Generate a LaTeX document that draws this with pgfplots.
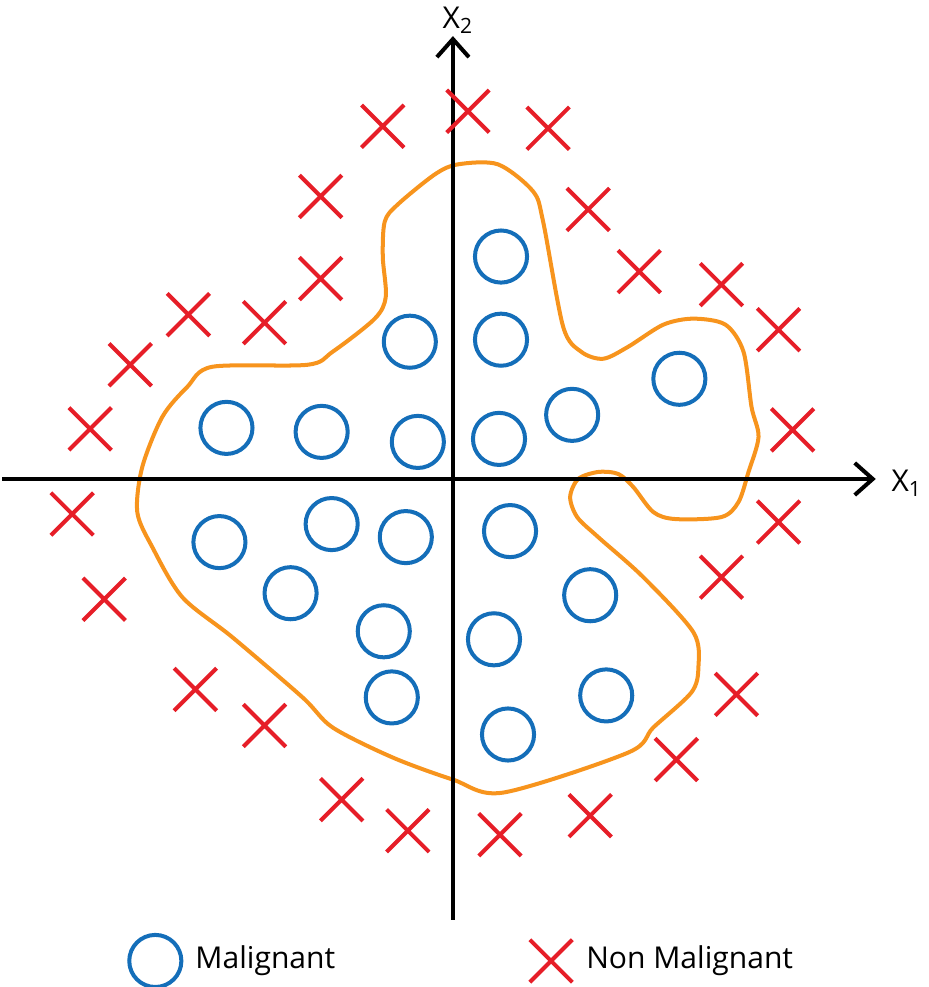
\documentclass[border=0pt]{standalone}
\usepackage{pgfplots}
\pgfplotsset{compat=1.18}
\usepackage{fontspec}
\setmainfont{Open Sans}
\usetikzlibrary{arrows.meta}
\definecolor{cblue}{RGB}{20,110,185}
\definecolor{cred}{RGB}{230,30,40}
\definecolor{corange}{RGB}{247,148,29}
\begin{document}
\begin{tikzpicture}
\begin{axis}[hide axis, scale only axis, width=461pt, height=493.5pt,
  xmin=0,xmax=922,ymin=0,ymax=987, y dir=reverse, clip=false]
\addplot[corange, line width=2pt, smooth cycle, tension=0.5] coordinates {
(455,158)(495,158)(530,185)(540,215)(560,320)(578,345)(600,352)(625,340)(660,318)(690,312)(722,318)(740,345)(748,400)(755,430)(745,465)(735,495)(718,510)(672,512)(650,505)(630,480)(615,467)(595,465)(575,472)(567,490)(574,510)(595,530)(640,570)(690,625)(695,660)(688,685)(650,720)(625,745)(500,785)(450,772)(390,750)(330,720)(300,690)(230,630)(180,590)(150,540)(135,505)(140,460)(160,410)(185,380)(210,360)(305,358)(330,345)(372,312)(383,290)(380,250)(382,215)(395,198)(432,168)};
\addplot[black, line width=2pt, -{Straight Barb[length=9pt,width=16pt,line width=2pt]}] coordinates {(0,472)(872,472)};
\addplot[black, line width=2pt, -{Straight Barb[length=9pt,width=16pt,line width=2pt]}] coordinates {(450,912)(450,30)};
\addplot[only marks, mark=o, mark size=13pt, cblue, line width=2pt] coordinates {
(498,250)(407,335)(498,333)(676,372)(569,408)(224,421)(319,425)(415,435)(496,432)(217,535)(329,517)(403,530)(507,524)(288,586)(587,588)(381,624)(491,632)(389,690)(603,688)(505,727)(153,953)};
\addplot[only marks, mark=x, mark size=15pt, cred, line width=2pt] coordinates {
(380,120)(465,105)(545,122)(318,190)(585,203)(318,272)(636,265)(718,278)(186,308)(262,316)(775,323)(128,358)(88,422)(789,423)(70,507)(775,515)(102,592)(718,570)(193,682)(733,687)(262,718)(673,752)(339,792)(587,808)(405,823)(497,827)(548,953)};
\node[anchor=west, font=\fontsize{15}{18}\selectfont] at (axis cs:186,953) {Malignant};
\node[anchor=west, font=\fontsize{15}{18}\selectfont] at (axis cs:576,953) {Non Malignant};
\node[font=\fontsize{15}{18}\selectfont] at (axis cs:903,476) {X\textsubscript{1}};
\node[font=\fontsize{15}{18}\selectfont] at (axis cs:455,14) {X\textsubscript{2}};
\end{axis}
\end{tikzpicture}
\end{document}
